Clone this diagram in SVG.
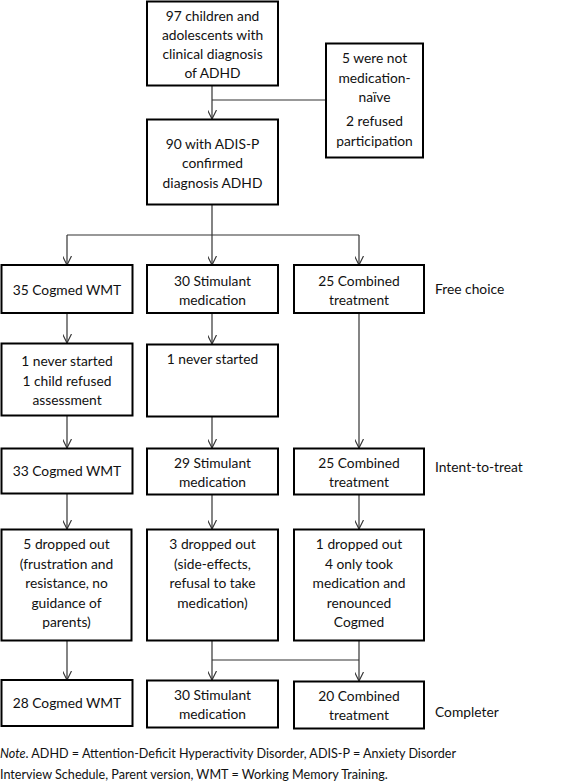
<svg xmlns="http://www.w3.org/2000/svg" width="567" height="783" viewBox="0 0 567 783">
<defs>
<style>
.box{fill:#fff;stroke:#000;stroke-width:2}
text{font-family:Lato,"Open Sans","Liberation Sans",sans-serif;font-size:13.8px;fill:#111}
.c{text-anchor:middle}
.lab{text-anchor:start}
.note{font-size:12.6px}
.con{fill:none;stroke:#333;stroke-width:1.2}
</style>
<marker id="ah" viewBox="0 0 10 10" refX="10" refY="5" markerWidth="9" markerHeight="9" markerUnits="userSpaceOnUse" orient="auto">
<path d="M0,0 L10,5 L0,10" fill="none" stroke="#333" stroke-width="1.3"/>
</marker>
</defs>
<rect width="567" height="783" fill="#fff"/>
<g id="connectors">
<path class="con" d="M212,86 V119" marker-end="url(#ah)"/>
<path class="con" d="M212,100 H326"/>
<path class="con" d="M212,205 V235 M67,235 H359"/>
<path class="con" d="M67,235 V265" marker-end="url(#ah)"/>
<path class="con" d="M212,235 V265" marker-end="url(#ah)"/>
<path class="con" d="M359,235 V265" marker-end="url(#ah)"/>
<path class="con" d="M67,313 V343" marker-end="url(#ah)"/>
<path class="con" d="M212,313 V344" marker-end="url(#ah)"/>
<path class="con" d="M359,313 V448" marker-end="url(#ah)"/>
<path class="con" d="M67,416 V448" marker-end="url(#ah)"/>
<path class="con" d="M212,417 V448" marker-end="url(#ah)"/>
<path class="con" d="M67,494 V529" marker-end="url(#ah)"/>
<path class="con" d="M212,495 V529" marker-end="url(#ah)"/>
<path class="con" d="M359,495 V529" marker-end="url(#ah)"/>
<path class="con" d="M67,641 V680" marker-end="url(#ah)"/>
<path class="con" d="M212,641 V680" marker-end="url(#ah)"/>
<path class="con" d="M359,641 V681" marker-end="url(#ah)"/>
<path class="con" d="M212,660 H359"/>
</g>
<g id="n-start">
<rect class="box" x="147" y="1.5" width="131" height="84"/>
<text class="c" x="212.5" y="20.5">97 children and</text>
<text class="c" x="212.5" y="39.5">adolescents with</text>
<text class="c" x="212.5" y="59">clinical diagnosis</text>
<text class="c" x="212.5" y="78">of ADHD</text>
</g>
<g id="n-excluded">
<rect class="box" x="326" y="43.5" width="97" height="114"/>
<text class="c" x="374.5" y="63">5 were not</text>
<text class="c" x="374.5" y="83">medication-</text>
<text class="c" x="374.5" y="102">naïve</text>
<text class="c" x="374.5" y="126">2 refused</text>
<text class="c" x="374.5" y="146">participation</text>
</g>
<g id="n-confirmed">
<rect class="box" x="147" y="119.5" width="131" height="85"/>
<text class="c" x="212.5" y="149">90 with ADIS-P</text>
<text class="c" x="212.5" y="168">confirmed</text>
<text class="c" x="212.5" y="187.5">diagnosis ADHD</text>
</g>
<g id="n-fc-wmt">
<rect class="box" x="1.5" y="265" width="131" height="48"/>
<text class="c" x="67" y="295">35 Cogmed WMT</text>
</g>
<g id="n-fc-stim">
<rect class="box" x="147" y="265" width="131" height="48"/>
<text class="c" x="212.5" y="285.5">30 Stimulant</text>
<text class="c" x="212.5" y="305">medication</text>
</g>
<g id="n-fc-comb">
<rect class="box" x="294" y="265" width="130" height="48"/>
<text class="c" x="359" y="285.5">25 Combined</text>
<text class="c" x="359" y="305">treatment</text>
</g>
<g id="l-free">
<text class="lab" x="435" y="294">Free choice</text>
</g>
<g id="n-ex-wmt">
<rect class="box" x="1.5" y="343.5" width="131" height="72"/>
<text class="c" x="67" y="366">1 never started</text>
<text class="c" x="67" y="385.5">1 child refused</text>
<text class="c" x="67" y="405">assessment</text>
</g>
<g id="n-ex-stim">
<rect class="box" x="147" y="344.5" width="131" height="72"/>
<text class="c" x="212.5" y="364">1 never started</text>
</g>
<g id="n-itt-wmt">
<rect class="box" x="1.5" y="448.5" width="131" height="45"/>
<text class="c" x="67" y="476">33 Cogmed WMT</text>
</g>
<g id="n-itt-stim">
<rect class="box" x="147" y="448.5" width="131" height="46"/>
<text class="c" x="212.5" y="468">29 Stimulant</text>
<text class="c" x="212.5" y="487">medication</text>
</g>
<g id="n-itt-comb">
<rect class="box" x="294" y="448.5" width="130" height="46"/>
<text class="c" x="359" y="468">25 Combined</text>
<text class="c" x="359" y="487">treatment</text>
</g>
<g id="l-itt">
<text class="lab" x="435" y="472">Intent-to-treat</text>
</g>
<g id="n-drop-wmt">
<rect class="box" x="1.5" y="529.5" width="130" height="111"/>
<text class="c" x="66.5" y="549">5 dropped out</text>
<text class="c" x="66.5" y="568.5">(frustration and</text>
<text class="c" x="66.5" y="588">resistance, no</text>
<text class="c" x="66.5" y="607.5">guidance of</text>
<text class="c" x="66.5" y="627">parents)</text>
</g>
<g id="n-drop-stim">
<rect class="box" x="147" y="529.5" width="131" height="111"/>
<text class="c" x="212.5" y="549">3 dropped out</text>
<text class="c" x="212.5" y="568.5">(side-effects,</text>
<text class="c" x="212.5" y="588">refusal to take</text>
<text class="c" x="212.5" y="607.5">medication)</text>
</g>
<g id="n-drop-comb">
<rect class="box" x="294" y="529.5" width="130" height="111"/>
<text class="c" x="359" y="549">1 dropped out</text>
<text class="c" x="359" y="568.5">4 only took</text>
<text class="c" x="359" y="588">medication and</text>
<text class="c" x="359" y="607.5">renounced</text>
<text class="c" x="359" y="627">Cogmed</text>
</g>
<g id="n-comp-wmt">
<rect class="box" x="1.5" y="680" width="131" height="46"/>
<text class="c" x="67" y="708">28 Cogmed WMT</text>
</g>
<g id="n-comp-stim">
<rect class="box" x="147" y="680.5" width="131" height="47"/>
<text class="c" x="212.5" y="700">30 Stimulant</text>
<text class="c" x="212.5" y="719">medication</text>
</g>
<g id="n-comp-comb">
<rect class="box" x="294" y="681.5" width="130" height="47"/>
<text class="c" x="359" y="701">20 Combined</text>
<text class="c" x="359" y="720">treatment</text>
</g>
<g id="l-comp">
<text class="lab" x="435" y="716.5">Completer</text>
</g>
<g id="note">
<text class="note" x="0" y="758"><tspan font-style="italic">Note</tspan>. ADHD = Attention-Deficit Hyperactivity Disorder, ADIS-P = Anxiety Disorder</text>
<text class="note" x="0" y="778.5">Interview Schedule, Parent version, WMT = Working Memory Training.</text>
</g>
</svg>
